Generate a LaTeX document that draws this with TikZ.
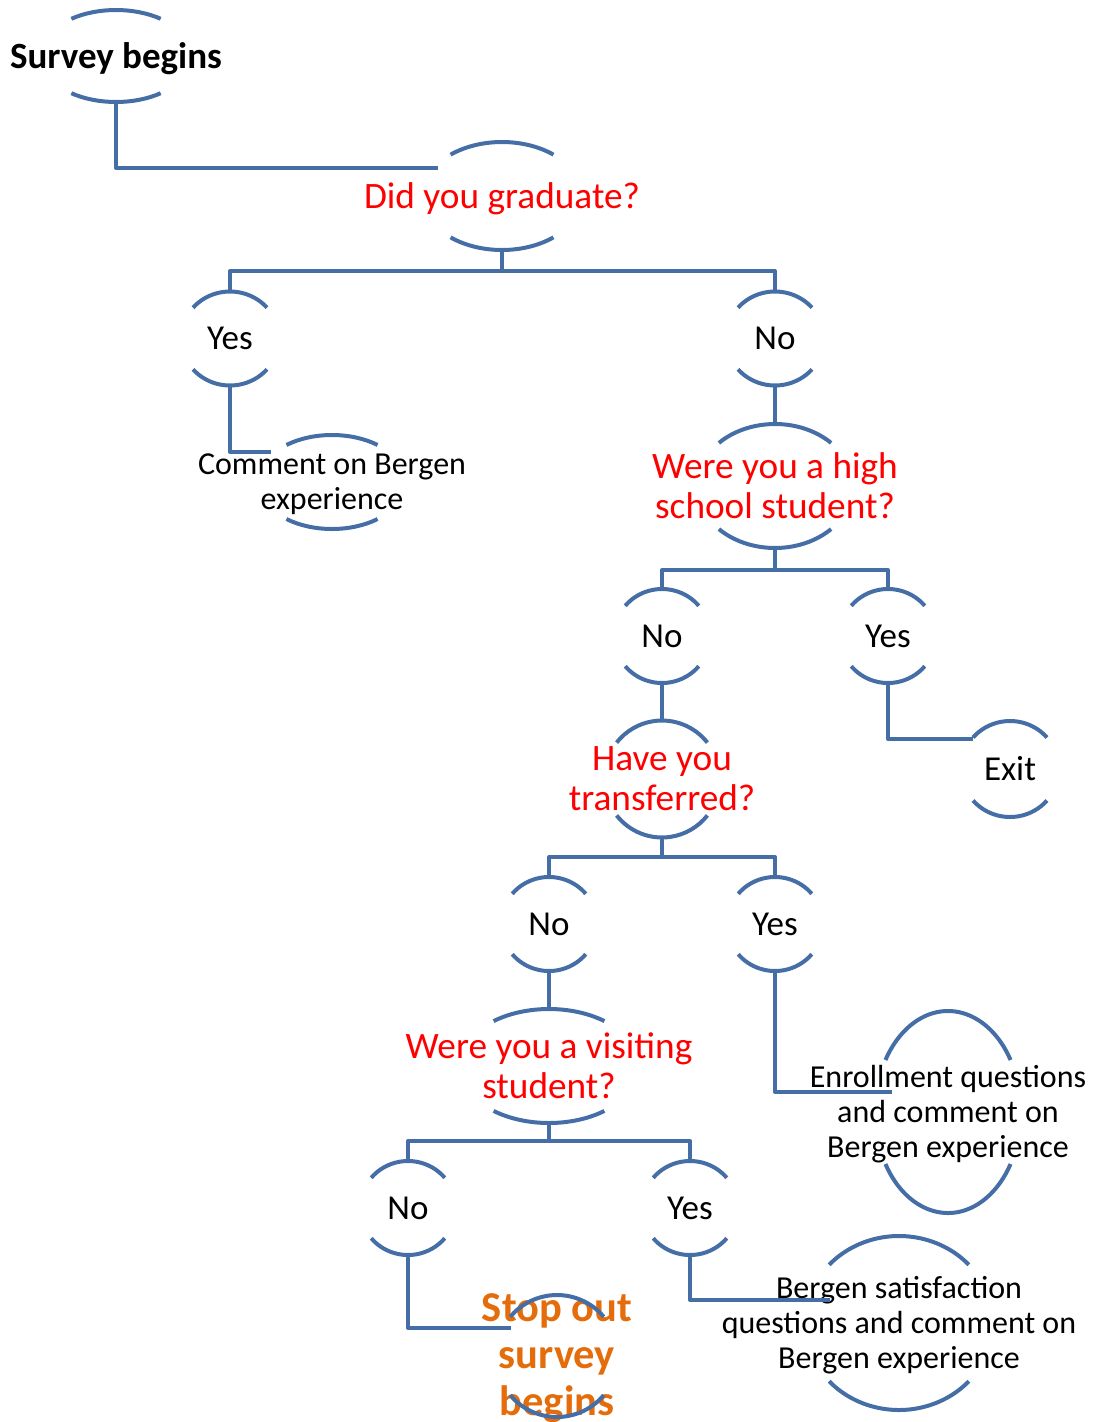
\documentclass[tikz,border=0pt]{standalone}
\usepackage{fontspec}
\setmainfont{Carlito}
\definecolor{lineblue}{RGB}{68,110,165}
\definecolor{qred}{RGB}{255,0,0}
\definecolor{stoporange}{RGB}{228,108,10}
\tikzset{
  arcline/.style={draw=lineblue, line width=4pt},
  conn/.style={draw=lineblue, line width=4pt, line join=round},
  txt/.style={inner sep=0pt},
  lower/.style={yshift=-2.5pt},
  qtext/.style={txt, text=qred, font=\fontsize{37.3}{40}\selectfont, align=center},
  atext/.style={txt, text=black, font=\fontsize{35}{40}\selectfont},
  ctext/.style={txt, lower, text=black, font=\fontsize{32}{35}\selectfont, align=center},
  btext/.style={txt, lower, text=black, font=\bfseries\fontsize{37}{40}\selectfont},
  otext/.style={txt, lower, text=stoporange, font=\bfseries\fontsize{42.5}{47}\selectfont, align=center},
}
% [#1 offset] #2 node name, #3 x radius, #4 y radius, #5 start angle
\newcommand\bubble[5][0]{%
  \path (#2.center) ++(0,#1pt) coordinate (#2-c);
  \draw[arcline] (#2-c) ++(#5:#3pt and #4pt) arc[start angle=#5, end angle=180-#5, x radius=#3pt, y radius=#4pt];
  \draw[arcline] (#2-c) ++(180+#5:#3pt and #4pt) arc[start angle=180+#5, end angle=360-#5, x radius=#3pt, y radius=#4pt];
  \path (#2-c) ++(0,#4pt) coordinate (#2-t);
  \path (#2-c) ++(0,-#4pt) coordinate (#2-b);
}
\begin{document}
\begin{tikzpicture}[x=1pt,y=1pt]
\useasboundingbox (0,0) rectangle (1093,-1422);

\node[btext] (survey) at (116,-56) {Survey begins};
\node[qtext, lower] (grad) at (502,-196) {Did you graduate?};
\node[atext] (yes1) at (230,-338.5) {Yes};
\node[atext] (no1) at (775,-338.5) {No};
\node[ctext] (comment) at (332,-482) {Comment on Bergen\\experience};
\node[qtext] (high) at (775,-486) {Were you a high\\school student?};
\node[atext] (no2) at (662,-636) {No};
\node[atext] (yes2) at (888,-636) {Yes};
\node[qtext] (trans) at (662,-779) {Have you\\transferred?};
\node[atext] (exit) at (1010,-769) {Exit};
\node[atext] (no3) at (549,-924) {No};
\node[atext] (yes3) at (775,-924) {Yes};
\node[qtext] (visit) at (549,-1066) {Were you a visiting\\student?};
\node[ctext] (enroll) at (948,-1112) {Enrollment questions\\and comment on\\Bergen experience};
\node[atext] (no4) at (408,-1208) {No};
\node[atext] (yes4) at (690,-1208) {Yes};
\node[otext] (stop) at (557,-1356) {Stop out\\survey\\begins};
\node[ctext] (bsat) at (899,-1323) {Bergen satisfaction\\questions and comment on\\Bergen experience};

\bubble[2.5]{survey}{76}{46}{54}
\bubble[2.5]{grad}{80}{54}{50}
\bubble{yes1}{49}{47}{41}
\bubble{no1}{49}{47}{41}
\bubble[2.5]{comment}{74}{47}{52}
\bubble{high}{78}{62}{44}
\bubble{no2}{48}{47}{40}
\bubble{yes2}{48}{47}{40}
\bubble{trans}{58}{58.5}{38.5}
\bubble{exit}{49}{48}{41}
\bubble{no3}{48}{47}{40}
\bubble{yes3}{48}{47}{40}
\bubble{visit}{90}{57}{52}
\bubble[2.5]{enroll}{73}{101}{31}
\bubble{no4}{48}{47}{40}
\bubble{yes4}{48}{47}{40}
\bubble[2.5]{stop}{61}{61}{40}
\bubble[2.5]{bsat}{94}{87}{42}

\coordinate (c1) at (438,-168);
\coordinate (bar1) at (502,-271);
\coordinate (c2) at (271,-452);
\coordinate (bar2) at (775,-570);
\coordinate (c3) at (973,-739);
\coordinate (bar3) at (662,-857);
\coordinate (c4) at (892,-1092);
\coordinate (bar4) at (549,-1141);
\coordinate (c5) at (511,-1328);
\coordinate (c6) at (830,-1300);

\draw[conn] (survey-b) |- (c1);
\draw[conn] (grad-b) -- (bar1);
\draw[conn] (yes1-t) |- (bar1) -| (no1-t);
\draw[conn] (yes1-b) |- (c2);
\draw[conn] (no1-b) -- (high-t);
\draw[conn] (high-b) -- (bar2);
\draw[conn] (no2-t) |- (bar2) -| (yes2-t);
\draw[conn] (no2-b) -- (trans-t);
\draw[conn] (yes2-b) |- (c3);
\draw[conn] (trans-b) -- (bar3);
\draw[conn] (no3-t) |- (bar3) -| (yes3-t);
\draw[conn] (no3-b) -- (visit-t);
\draw[conn] (yes3-b) |- (c4);
\draw[conn] (visit-b) -- (bar4);
\draw[conn] (no4-t) |- (bar4) -| (yes4-t);
\draw[conn] (no4-b) |- (c5);
\draw[conn] (yes4-b) |- (c6);
\end{tikzpicture}
\end{document}
